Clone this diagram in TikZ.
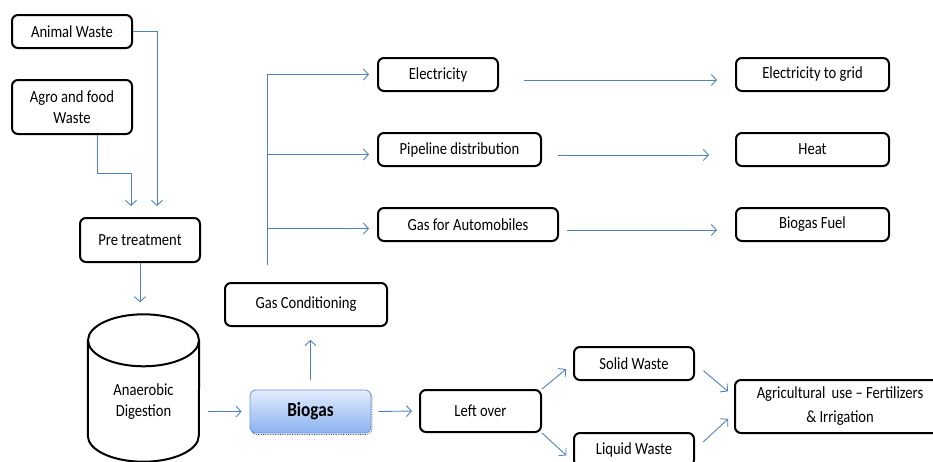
\documentclass[tikz,border=0pt]{standalone}
\usepackage{fontspec}
\setmainfont{Carlito}[FakeStretch=0.86]
\usetikzlibrary{arrows.meta,calc}

\definecolor{flowblue}{RGB}{79,129,189}
\definecolor{gastop}{RGB}{226,236,252}
\definecolor{gasbottom}{RGB}{138,178,240}
\definecolor{gasedge}{RGB}{104,150,226}

\begin{document}
\begin{tikzpicture}[x=1pt,y=-1pt,
    box/.style={draw,line width=2pt,rounded corners=6pt,align=center,inner sep=0pt,
      font=\fontsize{17}{21}\selectfont},
    gasbox/.style={draw=gasedge,line width=0.8pt,rounded corners=6pt,
      top color=gastop,bottom color=gasbottom,font=\fontsize{20}{22}\selectfont\bfseries,
      preaction={draw=black!75,densely dotted,line width=0.7pt,
        transform canvas={shift={(1pt,-1.5pt)}}}},
    tankline/.style={draw,line width=2pt},
    tankcap/.style={x radius=55.5pt,y radius=26pt},
    flow/.style={draw=flowblue,line width=0.9pt,-{Straight Barb[length=5pt,width=11pt]}},
    trunk/.style={draw=flowblue,line width=0.9pt}]

  \useasboundingbox (0,0) rectangle (933,461);

  % inputs
  \begin{scope}[every node/.style={box}]
    \node[minimum width=120,minimum height=33] (animal) at (72,31.5) {Animal Waste};
    \node[minimum width=120,minimum height=54] (agro)   at (72,107)   {Agro and food\\Waste};
    \node[minimum width=120,minimum height=44] (pre)    at (140,240)  {Pre treatment};
    \node[minimum width=162,minimum height=43] (cond)   at (306,304.5) {Gas Conditioning};
  \end{scope}

  % digester tank
  \node[minimum width=111,minimum height=147,inner sep=0pt,
    label={[name=digtext,align=center,font=\fontsize{17}{21}\selectfont,yshift=-14pt]center:Anaerobic\\Digestion}]
    (digest) at (143.5,388) {};
  \path[tankline] ($(digest.north)+(0,26)$) ellipse [tankcap];
  \path[tankline] ($(digest.north west)+(0,26)$) -- ($(digest.south west)+(0,-26)$)
    arc[start angle=180,end angle=360,tankcap] -- ($(digest.north east)+(0,26)$);

  \node[gasbox,minimum width=121,minimum height=43] (biogas) at (310.5,411.5) {Biogas};

  % uses of the gas
  \begin{scope}[every node/.style={box,minimum height=33}]
    \node[minimum width=120] (elec)  at (438,74.5)    {Electricity};
    \node[minimum width=163] (pipe)  at (459.5,149.5) {Pipeline distribution};
    \node[minimum width=180] (auto)  at (468,224.5)   {Gas for Automobiles};
    \node[minimum width=153] (grid)  at (812.5,74.5)  {Electricity to grid};
    \node[minimum width=153] (heat)  at (812.5,149.5) {Heat};
    \node[minimum width=153] (fuel)  at (812.5,224.5) {Biogas Fuel};
  \end{scope}

  % what is left over
  \begin{scope}[every node/.style={box}]
    \node[minimum width=121,minimum height=42] (left)   at (480.5,411)  {Left over};
    \node[minimum width=120,minimum height=33] (solid)  at (634,363.5)  {Solid Waste};
    \node[minimum width=120,minimum height=33] (liquid) at (634,449.5)  {Liquid Waste};
    \node[minimum width=210,minimum height=53,font=\fontsize{17}{24}\selectfont]
      (agri) at (840,406.5) {Agricultural\, use -- Fertilizers\\\& Irrigation};
  \end{scope}

  \coordinate (split)  at ($(cond.north)+(-39,-17)$);
  \coordinate (pipein) at ($(pipe.west)+(0,5)$);
  \coordinate (autoin) at ($(auto.west)+(0,4)$);

  \begin{scope}[every path/.style={flow}]
    \path[shorten >=11pt] (animal.east) -| ([xshift=17pt]pre.north);
    \path[shorten >=11pt] ([xshift=25pt]agro.south) -- ++(0,38) -| ([xshift=-9pt]pre.north);
    \path[shorten >=12pt] (pre.south) -- (pre.south |- digest.north);
    \path[shorten <=9pt,shorten >=8pt] (digest.east |- biogas.west) -- (biogas.west);
    \path[shorten <=10pt,shorten >=13pt] (biogas.north) -- (biogas.north |- cond.south);

    \path[shorten >=8pt] (split |- elec.west) -- (elec.west);
    \path[shorten >=8pt] (split |- pipein) -- (pipein);
    \path[shorten >=8pt] (split |- autoin) -- (autoin);

    \path[shorten <=25pt,shorten >=18pt] ([yshift=-5.5pt]elec.east) -- ([yshift=-5.5pt]grid.west);
    \path[shorten <=16pt,shorten >=26pt] ([yshift=-5.5pt]pipe.east) -- ([yshift=-5.5pt]heat.west);
    \path[shorten <=8pt,shorten >=18pt]  ([yshift=-5.5pt]auto.east) -- ([yshift=-5.5pt]fuel.west);

    \path[shorten <=7pt,shorten >=7pt] (biogas.east) -- (left.west);
    \path[shorten >=9pt] (left.north east) -- (solid.west);
    \path[shorten >=9pt] (left.south east) -- ($(liquid.west)+(0,12)$);
    \path[shorten <=11pt,shorten >=8pt] (solid.east) -- ($(agri.west)+(0,-10)$);
    \path[shorten <=11pt,shorten >=8pt] (liquid.east) -- ($(agri.west)+(0,7)$);
  \end{scope}
  \path[trunk] (split) -- (split |- elec.west);

\end{tikzpicture}
\end{document}
